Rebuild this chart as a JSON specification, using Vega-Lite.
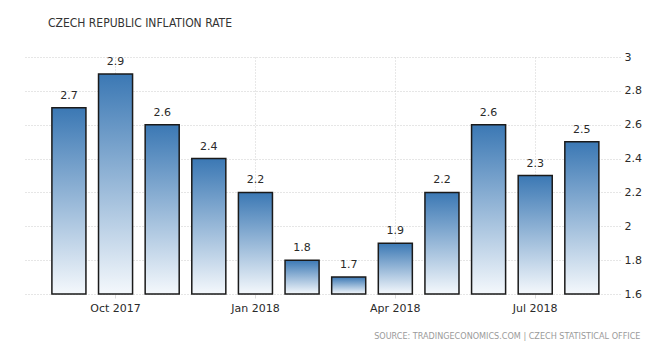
{
  "$schema": "https://vega.github.io/schema/vega-lite/v6.json",
  "width": 595,
  "height": 237,
  "autosize": "none",
  "padding": {"left": 25, "top": 57, "right": 48, "bottom": 70},
  "background": "white",
  "title": {
    "text": "CZECH REPUBLIC INFLATION RATE",
    "anchor": "start",
    "dx": 23,
    "offset": 21,
    "font": "Liberation Sans Narrow, DejaVu Sans Condensed, sans-serif",
    "fontSize": 12,
    "fontWeight": "normal",
    "color": "#333333"
  },
  "config": {
    "view": {"stroke": null},
    "axis": {"labelFont": "DejaVu Sans", "titleFont": "DejaVu Sans"}
  },
  "data": {
    "values": [
      {"month": "Sep 2017", "rate": 2.7},
      {"month": "Oct 2017", "rate": 2.9},
      {"month": "Nov 2017", "rate": 2.6},
      {"month": "Dec 2017", "rate": 2.4},
      {"month": "Jan 2018", "rate": 2.2},
      {"month": "Feb 2018", "rate": 1.8},
      {"month": "Mar 2018", "rate": 1.7},
      {"month": "Apr 2018", "rate": 1.9},
      {"month": "May 2018", "rate": 2.2},
      {"month": "Jun 2018", "rate": 2.6},
      {"month": "Jul 2018", "rate": 2.3},
      {"month": "Aug 2018", "rate": 2.5}
    ]
  },
  "encoding": {
    "x": {
      "field": "month",
      "type": "ordinal",
      "sort": null,
      "scale": {"paddingInner": 0.27, "paddingOuter": 0.515, "align": 0.56},
      "axis": {
        "values": ["Oct 2017", "Jan 2018", "Apr 2018", "Jul 2018"],
        "bandPosition": 0.5,
        "labelAngle": 0,
        "labelFontSize": 11,
        "labelColor": "#2a2a2a",
        "labelPadding": 4,
        "domain": false,
        "ticks": true,
        "tickSize": 4,
        "tickColor": "#dddddd",
        "grid": true,
        "gridColor": "#d0d0d0",
        "gridDash": [1, 2],
        "title": "SOURCE: TRADINGECONOMICS.COM  |  CZECH STATISTICAL OFFICE",
        "titleFont": "Liberation Sans Narrow, DejaVu Sans Condensed, sans-serif",
        "titleFontSize": 9,
        "titleFontWeight": "normal",
        "titleColor": "#9a9a9a",
        "titleAnchor": "end",
        "titleAlign": "right",
        "titleBaseline": "alphabetic",
        "titleX": 615,
        "titleY": 44
      }
    },
    "y": {
      "field": "rate",
      "type": "quantitative",
      "scale": {"domain": [1.6, 3], "zero": false, "nice": false},
      "axis": {
        "orient": "right",
        "values": [1.6, 1.8, 2, 2.2, 2.4, 2.6, 2.8, 3],
        "format": "~g",
        "labelFontSize": 11,
        "labelColor": "#2a2a2a",
        "labelPadding": 4,
        "domain": false,
        "ticks": false,
        "grid": true,
        "gridColor": "#cccccc",
        "gridDash": [1, 2],
        "title": null
      }
    }
  },
  "layer": [
    {
      "mark": {
        "type": "bar",
        "stroke": "#1a1a1a",
        "strokeWidth": 1.5,
        "color": {
          "gradient": "linear",
          "x1": 0, "y1": 0, "x2": 0, "y2": 1,
          "stops": [
            {"offset": 0, "color": "#3b78b4"},
            {"offset": 1, "color": "#f4f8fc"}
          ]
        }
      },
      "encoding": {"y2": {"datum": 1.6}}
    },
    {
      "mark": {
        "type": "text",
        "baseline": "alphabetic",
        "dy": -9,
        "font": "DejaVu Sans",
        "fontSize": 11,
        "color": "#2a2a2a"
      },
      "encoding": {"text": {"field": "rate", "type": "quantitative", "format": ".1f"}}
    }
  ]
}
